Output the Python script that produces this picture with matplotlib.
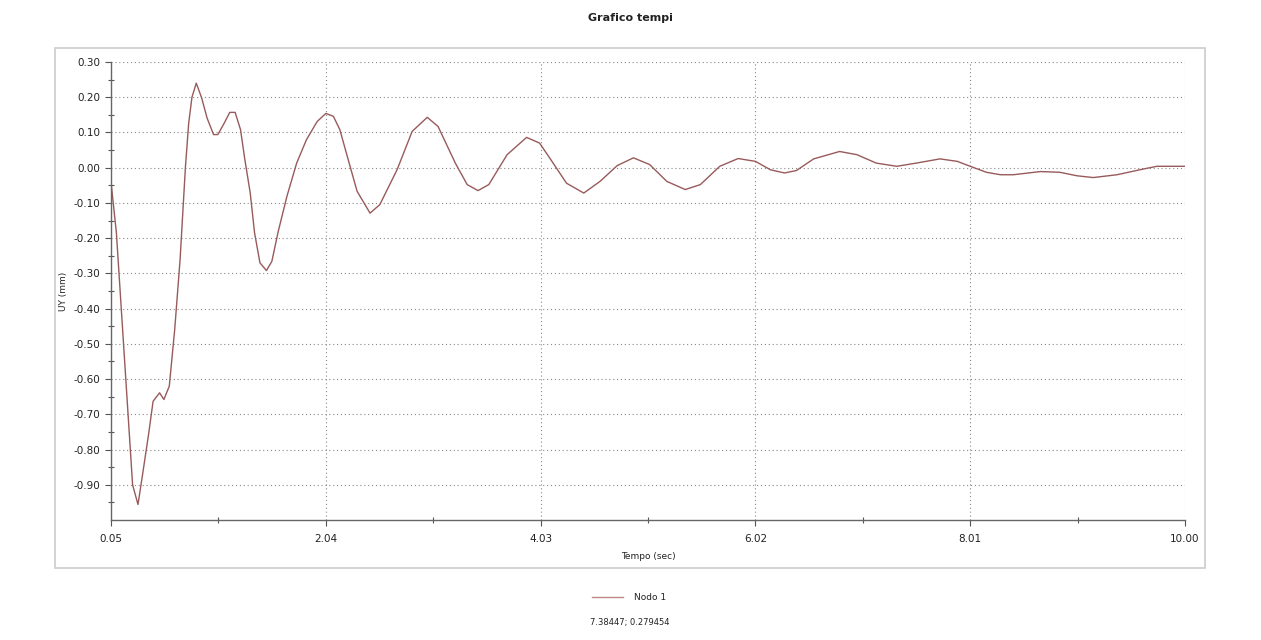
import matplotlib
matplotlib.use('Agg')
import matplotlib.pyplot as plt
from matplotlib.patches import Rectangle
import numpy as np

## data
tempo = [0.05, 0.10, 0.25, 0.30, 0.34, 0.40, 0.44, 0.50, 0.54, 0.59, 0.64, 0.69,
         0.74, 0.77, 0.80, 0.84, 0.89, 0.94, 1.00, 1.04, 1.10, 1.15, 1.20, 1.25,
         1.29, 1.34, 1.38, 1.43, 1.49, 1.54, 1.60, 1.68, 1.77, 1.86, 1.96, 2.04,
         2.11, 2.17, 2.25, 2.33, 2.45, 2.54, 2.70, 2.84, 2.98, 3.08, 3.24, 3.35, 3.45,
         3.55, 3.72, 3.90, 4.02, 4.12, 4.27, 4.43, 4.58, 4.74, 4.89, 5.04, 5.20,
         5.37, 5.51, 5.69, 5.86, 6.02, 6.16, 6.29, 6.40, 6.56, 6.80, 6.96, 7.14,
         7.33, 7.51, 7.73, 7.89, 8.01, 8.16, 8.29, 8.41, 8.66, 8.84, 9.00, 9.15,
         9.37, 9.58, 9.74, 10.00]
uy = [-0.04, -0.185, -0.90, -0.956, -0.876, -0.753, -0.663, -0.639, -0.658, -0.62,
      -0.46, -0.261, 0.004, 0.127, 0.20, 0.24, 0.198, 0.141, 0.094, 0.094, 0.127,
      0.157, 0.157, 0.108, 0.023, -0.072, -0.185, -0.27, -0.292, -0.266, -0.18,
      -0.081, 0.013, 0.079, 0.131, 0.154, 0.146, 0.108, 0.02, -0.067, -0.129, -0.105,
      -0.006, 0.103, 0.143, 0.117, 0.013, -0.048, -0.065, -0.048, 0.037, 0.086,
      0.07, 0.025, -0.044, -0.072, -0.039, 0.006, 0.028, 0.009, -0.039, -0.062,
      -0.048, 0.004, 0.026, 0.018, -0.006, -0.015, -0.008, 0.025, 0.046, 0.037,
      0.013, 0.004, 0.013, 0.025, 0.018, 0.004, -0.013, -0.020, -0.020, -0.011,
      -0.013, -0.023, -0.028, -0.020, -0.006, 0.004, 0.004]
x_ticks = [0.05, 2.04, 4.03, 6.02, 8.01, 10.00]
y_ticks = [-0.90, -0.80, -0.70, -0.60, -0.50, -0.40, -0.30, -0.20, -0.10,
           0.00, 0.10, 0.20, 0.30]
serie_name = 'Nodo 1'
cursor_text = '7.38447; 0.279454'

fig = plt.figure(figsize=(12.61, 6.40), dpi=100)
ax = fig.add_axes([111/1261, 1-520/640, (1185-111)/1261, (520-62)/640])

ax.plot(tempo, uy, color='#985a5a', lw=1.0, label=serie_name)

ax.set_xlim(0.05, 10.0)
ax.set_ylim(-1.0, 0.30)
ax.set_xticks(x_ticks)
ax.set_xticklabels(['%.2f' % v for v in x_ticks])
ax.set_xticks([(x_ticks[i] + x_ticks[i+1]) / 2 for i in range(len(x_ticks)-1)], minor=True)
ax.set_yticks(y_ticks)
ax.set_yticklabels(['%.2f' % (v + 0.0) for v in y_ticks])
ax.set_yticks([v - 0.05 for v in y_ticks], minor=True)
ax.tick_params(axis='both', which='major', labelsize=7.5, colors='#555555',
               labelcolor='#222222', direction='out', length=4, width=0.8)
ax.tick_params(axis='both', which='minor', colors='#555555', direction='inout',
               length=4, width=0.8)
ax.tick_params(axis='x', pad=6)
ax.grid(True, which='major', linestyle=(0, (1, 2.5)), color='#888888', lw=0.8)

for s in ['top', 'right']:
    ax.spines[s].set_visible(False)
for s in ['left', 'bottom']:
    ax.spines[s].set_color('#666666')
    ax.spines[s].set_linewidth(1.0)

ax.set_xlabel('Tempo (sec)', fontsize=6.5, color='#222222', labelpad=6)
ax.set_ylabel('UY (mm)', fontsize=6.5, color='#222222', labelpad=4)

## light frame around the chart area
fig.patches.append(Rectangle((55/1261, 1-568/640), 1150/1261, 520/640,
                             transform=fig.transFigure, fill=False,
                             edgecolor='#cccccc', lw=1.2))

fig.text(630/1261, 1-18/640, 'Grafico tempi', ha='center', va='center',
         fontsize=8, fontweight='bold', color='#222222')

## legend drawn by hand under the frame
fig.add_artist(plt.Line2D([592/1261, 623/1261], [1-597/640, 1-597/640],
                          color='#c08888', lw=1.0))
fig.text(634/1261, 1-597/640, serie_name, ha='left', va='center', fontsize=6.5,
         color='#222222')
fig.text(630/1261, 1-622/640, cursor_text, ha='center', va='center', fontsize=6,
         color='#222222')

fig.savefig('out.png', dpi=100)
